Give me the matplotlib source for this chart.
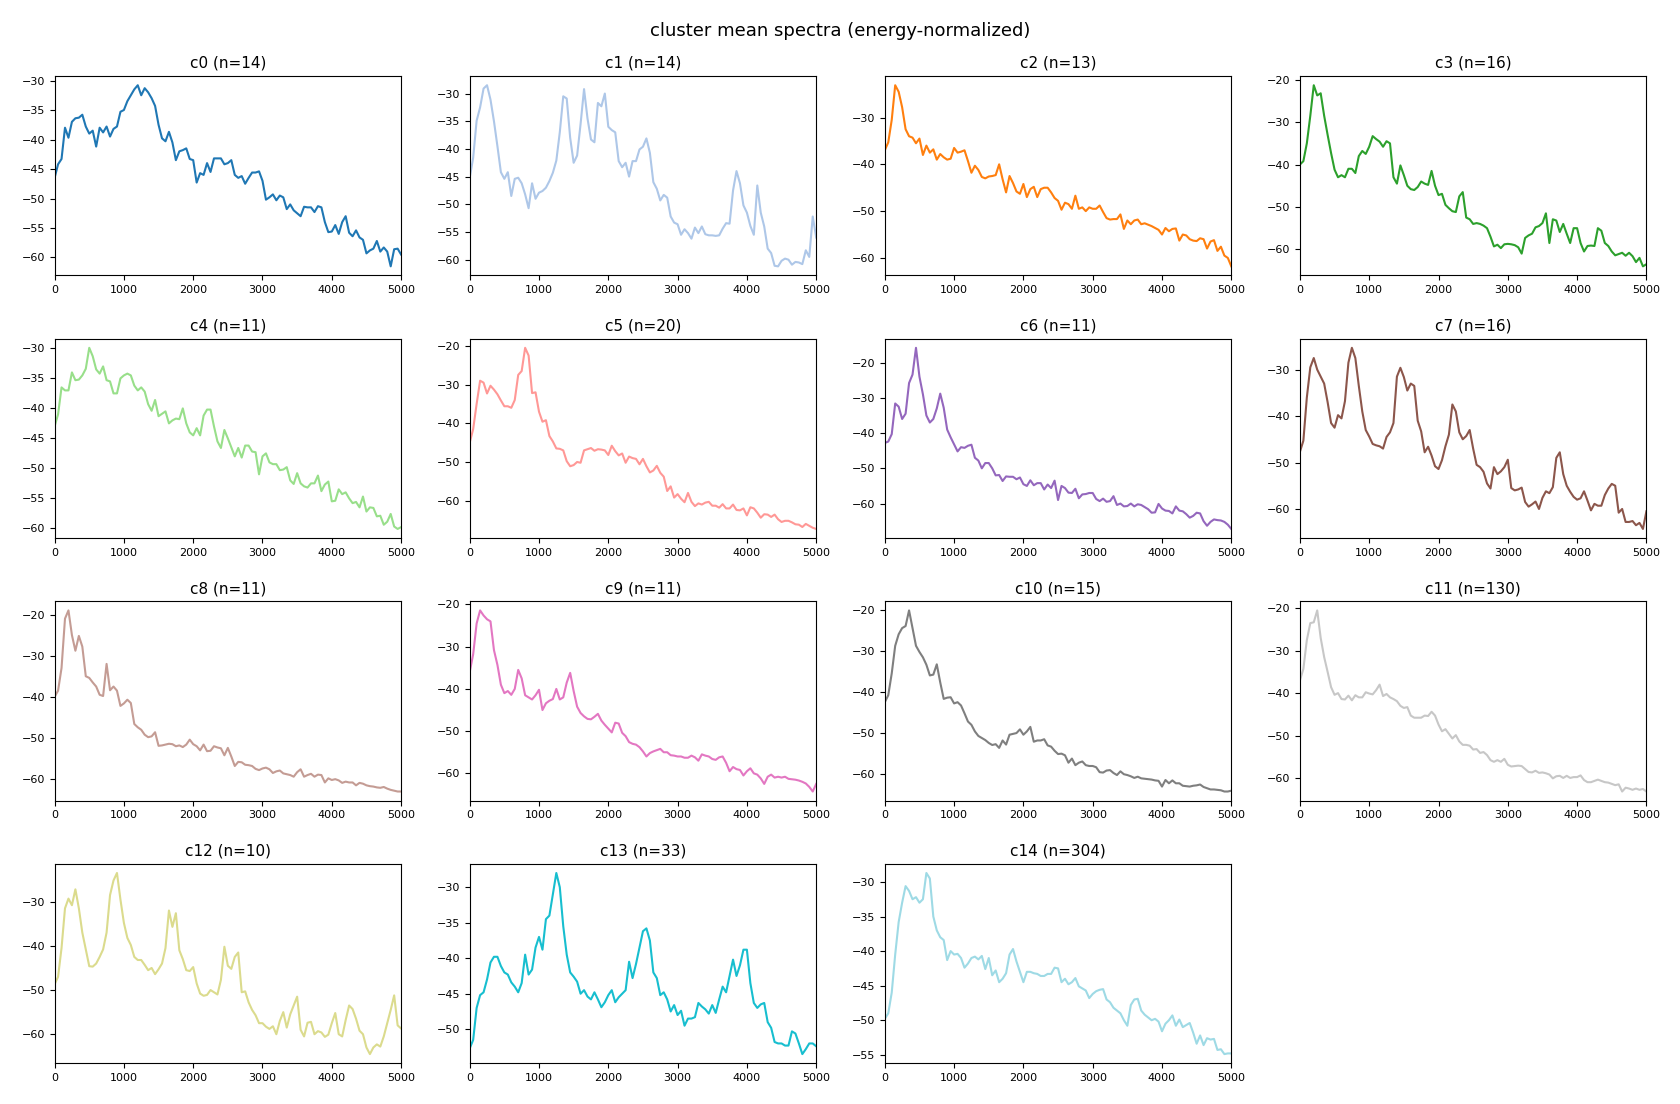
import matplotlib
matplotlib.use('Agg')
import matplotlib.pyplot as plt
import numpy as np

# frequency grid (Hz), 50 Hz steps from 0 to 5000
freqs = np.arange(0, 5001, 50)

labels = ['c0', 'c1', 'c2', 'c3', 'c4', 'c5', 'c6', 'c7',
          'c8', 'c9', 'c10', 'c11', 'c12', 'c13', 'c14']
counts = [14, 14, 13, 16, 11, 20, 11, 16, 11, 11, 15, 130, 10, 33, 304]

# mean spectra in dB, one list per cluster
c0 = [-46.5, -44.2, -43.3, -38.0, -39.7, -37.0, -36.4, -36.3, -35.8, -37.8,
      -39.0, -38.5, -41.2, -38.0, -38.8, -37.8, -39.5, -38.2, -37.8, -35.3,
      -35.0, -33.5, -32.5, -31.5, -30.8, -32.5, -31.3, -32.0, -33.0, -34.3,
      -37.5, -39.8, -40.3, -38.7, -40.5, -43.5, -42.0, -41.8, -41.5, -43.3,
      -43.5, -47.3, -45.7, -46.0, -44.0, -45.5, -43.2, -43.2, -43.2, -44.2,
      -44.0, -43.5, -46.0, -46.5, -46.2, -47.5, -46.5, -45.6, -45.6, -45.4,
      -47.0, -50.2, -49.8, -49.3, -50.3, -49.5, -49.8, -51.8, -51.0, -52.0,
      -52.5, -53.0, -51.4, -51.5, -51.5, -52.3, -51.3, -51.5, -54.0, -55.7,
      -55.6, -54.5, -56.0, -54.0, -53.0, -55.8, -56.4, -55.4, -56.6, -57.0,
      -59.3, -58.8, -58.5, -57.2, -59.0, -58.3, -59.0, -61.5, -58.6, -58.5,
      -59.5]
c1 = [-45.2, -41.6, -34.9, -32.5, -29.1, -28.5, -31.1, -35.0, -39.5, -44.2,
      -45.4, -44.2, -48.5, -45.4, -45.2, -46.2, -48.2, -50.7, -46.2, -49.0,
      -47.9, -47.6, -47.0, -45.8, -44.3, -42.1, -37.0, -30.5, -30.9, -38.0,
      -42.5, -41.2, -35.5, -29.2, -34.5, -38.3, -38.8, -31.7, -32.3, -30.0,
      -36.0, -36.6, -37.0, -42.2, -43.3, -42.5, -45.0, -42.2, -42.2, -40.1,
      -39.6, -38.1, -40.7, -46.0, -47.2, -49.3, -48.3, -48.8, -52.2, -53.3,
      -53.6, -55.5, -54.5, -55.2, -56.2, -54.2, -55.2, -54.0, -55.4, -55.6,
      -55.6, -55.7, -55.6, -54.4, -53.4, -53.5, -47.5, -44.0, -46.2, -50.2,
      -51.5, -53.9, -55.5, -46.6, -51.5, -54.0, -58.0, -58.8, -61.1, -61.2,
      -60.2, -59.8, -60.0, -60.9, -60.4, -60.5, -60.8, -58.3, -59.5, -52.2,
      -56.0]
c2 = [-37.0, -35.3, -30.5, -23.1, -24.5, -27.8, -32.5, -34.0, -34.3, -35.5,
      -34.5, -38.0, -36.0, -37.5, -36.8, -39.0, -37.8, -38.5, -39.0, -38.8,
      -36.5, -37.5, -37.3, -37.0, -39.3, -41.8, -40.3, -41.2, -42.7, -43.0,
      -42.6, -42.5, -42.3, -40.0, -43.2, -46.0, -42.5, -44.0, -45.8, -46.3,
      -44.2, -47.0, -45.3, -44.8, -47.0, -45.3, -45.0, -45.0, -46.0, -47.2,
      -47.8, -49.7, -48.2, -48.5, -49.5, -46.7, -49.5, -49.2, -50.0, -49.2,
      -49.5, -49.5, -48.8, -50.2, -51.5, -51.8, -51.7, -51.7, -50.7, -53.8,
      -52.0, -52.8, -52.0, -51.8, -52.8, -52.6, -52.9, -53.2, -53.6, -54.0,
      -55.0, -53.6, -54.3, -53.8, -53.7, -56.3, -55.0, -55.2, -56.0, -56.3,
      -56.4, -55.8, -56.0, -58.0, -56.5, -56.2, -58.5, -57.6, -59.5, -60.0,
      -61.8]
c3 = [-40.0, -39.2, -35.0, -28.5, -21.3, -23.7, -23.2, -28.5, -33.0, -37.3,
      -41.2, -43.0, -42.5, -43.0, -41.0, -41.0, -42.0, -38.0, -36.8, -37.5,
      -35.8, -33.3, -34.0, -34.6, -35.8, -34.5, -35.0, -43.0, -44.5, -40.2,
      -42.5, -45.0, -45.8, -46.0, -45.3, -44.0, -44.5, -44.8, -41.5, -45.0,
      -47.2, -46.9, -49.5, -50.3, -51.0, -51.2, -47.5, -46.5, -52.5, -52.9,
      -54.0, -53.8, -54.0, -54.4, -55.0, -57.0, -59.3, -58.9, -59.7, -58.8,
      -58.7, -58.8, -59.0, -59.5, -61.0, -57.3, -56.7, -56.3, -54.8, -54.5,
      -53.8, -51.5, -58.5, -52.9, -53.2, -55.9, -54.0, -56.3, -58.5, -55.0,
      -55.0, -58.5, -60.5, -59.2, -59.1, -59.2, -55.0, -55.6, -58.5, -59.2,
      -60.5, -61.4, -61.1, -60.8, -61.5, -60.8, -61.6, -63.0, -62.0, -64.0,
      -63.5]
c4 = [-43.0, -41.0, -36.5, -37.0, -37.0, -34.0, -35.3, -35.2, -34.5, -33.4,
      -29.9, -31.3, -33.5, -34.2, -33.0, -35.3, -35.5, -37.5, -37.5, -35.0,
      -34.5, -34.2, -34.5, -36.2, -37.0, -36.5, -37.2, -39.3, -40.4, -38.6,
      -41.3, -40.9, -40.5, -42.5, -42.0, -41.7, -41.8, -40.0, -42.5, -44.0,
      -44.5, -43.3, -44.5, -41.2, -40.2, -40.2, -43.0, -45.5, -46.6, -43.6,
      -45.0, -46.5, -48.0, -46.6, -48.2, -46.2, -46.2, -47.2, -47.3, -51.0,
      -48.0, -47.5, -49.0, -49.3, -49.3, -50.3, -50.2, -49.8, -52.0, -52.6,
      -50.8, -52.5, -53.0, -53.2, -52.5, -52.5, -51.2, -53.8, -52.7, -52.2,
      -55.5, -55.4, -53.5, -54.3, -54.0, -55.0, -55.8, -55.6, -56.5, -54.7,
      -57.2, -56.5, -56.6, -58.0, -57.9, -59.4, -58.9, -57.6, -59.7, -60.1,
      -59.8]
c5 = [-45.0, -41.5, -35.0, -29.0, -29.5, -32.3, -30.3, -31.3, -32.5, -34.1,
      -35.6, -35.6, -36.0, -34.0, -27.5, -26.5, -20.5, -22.5, -32.2, -32.0,
      -37.0, -39.6, -39.2, -43.3, -44.7, -46.5, -46.6, -47.0, -49.8, -51.1,
      -50.8, -50.0, -50.2, -47.0, -46.7, -46.4, -47.1, -46.7, -46.8, -47.0,
      -48.2, -45.8, -47.2, -48.3, -47.8, -50.2, -48.6, -49.0, -49.2, -50.6,
      -49.2, -51.1, -52.7, -52.2, -51.0, -52.8, -53.8, -57.5, -56.3, -59.2,
      -58.3, -59.5, -60.4, -58.0, -60.3, -61.4, -60.7, -61.0, -60.5, -60.3,
      -61.3, -61.3, -61.8, -60.9, -62.0, -62.0, -61.0, -62.4, -62.5, -62.0,
      -63.8, -61.7, -62.0, -63.1, -64.4, -63.5, -63.6, -64.2, -63.6, -64.8,
      -65.5, -65.2, -65.2, -65.6, -66.1, -66.2, -66.8, -66.0, -66.5, -67.0,
      -67.3]
c6 = [-42.8, -42.4, -40.3, -31.6, -32.5, -36.0, -34.5, -25.8, -23.4, -15.8,
      -24.0, -29.0, -35.0, -37.0, -36.0, -33.0, -28.8, -32.8, -39.0, -41.2,
      -43.2, -45.2, -44.0, -44.2, -43.6, -43.3, -47.0, -47.8, -50.0, -48.5,
      -48.5, -50.0, -52.0, -51.9, -53.6, -52.3, -52.4, -52.4, -53.1, -52.6,
      -54.5, -55.0, -53.4, -54.8, -54.2, -54.2, -56.0, -54.6, -55.6, -53.5,
      -59.0, -55.0, -55.6, -56.9, -57.0, -55.8, -58.5, -57.4, -57.3, -57.0,
      -57.0, -58.7, -59.3, -58.6, -59.5, -59.3, -57.9, -60.4, -60.0, -60.8,
      -60.7, -60.0, -60.8, -60.2, -60.4, -61.0, -61.6, -62.6, -62.5, -60.1,
      -61.4, -62.0, -62.1, -62.8, -60.8, -62.0, -62.2, -63.0, -64.0, -63.5,
      -62.6, -62.8, -65.0, -66.3, -65.2, -64.5, -64.7, -64.8, -65.2, -66.0,
      -67.2]
c7 = [-47.7, -45.3, -36.0, -29.5, -27.5, -30.0, -31.5, -33.0, -37.0, -41.5,
      -42.5, -39.8, -40.5, -36.8, -28.5, -25.3, -27.5, -33.5, -39.0, -43.0,
      -44.4, -46.0, -46.3, -46.5, -47.0, -44.5, -43.5, -41.5, -31.5, -29.6,
      -31.6, -34.5, -33.0, -33.5, -41.0, -43.3, -47.8, -46.6, -48.5, -50.8,
      -51.4, -49.5, -46.5, -44.0, -37.5, -39.0, -43.5, -45.0, -44.3, -43.0,
      -47.0, -50.5, -51.0, -52.0, -54.5, -55.6, -51.0, -52.5, -51.9, -51.0,
      -49.4, -55.5, -56.0, -55.8, -55.4, -58.5, -59.5, -59.0, -58.4, -60.0,
      -57.6, -56.2, -56.6, -55.3, -49.0, -47.8, -52.5, -55.0, -56.3, -57.4,
      -58.0, -57.7, -56.2, -58.2, -60.3, -58.9, -59.3, -59.3, -57.0, -55.6,
      -54.6, -55.0, -60.8, -60.0, -62.8, -62.8, -62.6, -63.5, -63.0, -64.3,
      -60.5]
c8 = [-40.0, -38.5, -33.0, -21.0, -19.0, -25.0, -28.8, -25.2, -27.8, -35.0,
      -35.4, -36.5, -37.5, -39.5, -39.8, -32.0, -38.4, -37.5, -38.5, -42.2,
      -41.6, -40.7, -41.5, -46.6, -47.4, -48.0, -49.2, -49.8, -49.6, -48.6,
      -51.9, -51.8, -51.6, -51.4, -51.5, -52.0, -51.8, -52.2, -51.6, -50.4,
      -51.5, -52.0, -53.0, -51.6, -53.2, -53.1, -52.0, -52.3, -52.5, -54.2,
      -52.4, -54.5, -56.8, -55.8, -55.9, -56.5, -56.6, -56.8, -57.5, -57.8,
      -57.4, -57.2, -57.6, -58.5, -58.1, -57.9, -58.6, -58.8, -59.0, -59.4,
      -58.3, -57.6, -59.4, -59.0, -58.7, -59.4, -58.9, -59.0, -60.8, -59.8,
      -60.2, -60.0, -60.3, -60.9, -60.6, -60.8, -60.8, -61.5, -60.9, -61.1,
      -61.5, -61.7, -61.8, -62.0, -62.1, -61.9, -62.3, -62.6, -62.8, -63.0,
      -63.0]
c9 = [-36.0, -31.8, -24.5, -21.4, -22.6, -23.5, -24.0, -30.8, -34.3, -39.0,
      -41.0, -40.5, -41.4, -40.0, -35.5, -37.5, -41.5, -42.0, -42.5, -41.5,
      -40.2, -45.0, -43.4, -42.8, -42.4, -40.0, -42.5, -42.0, -38.5, -36.2,
      -40.5, -44.2, -45.7, -46.5, -47.1, -47.2, -46.6, -45.9, -47.5, -48.5,
      -49.4, -50.3, -48.0, -48.2, -50.4, -51.2, -52.6, -53.0, -53.2, -53.8,
      -54.8, -56.0, -55.2, -54.8, -54.5, -54.2, -55.0, -55.0, -55.7, -55.8,
      -56.0, -56.0, -56.3, -56.3, -55.8, -56.2, -57.0, -55.5, -55.8, -56.0,
      -56.6, -56.8, -56.2, -56.0, -57.5, -59.5, -58.5, -59.0, -59.2, -60.5,
      -59.5, -58.8, -60.0, -60.3, -61.2, -62.5, -60.8, -60.3, -61.0, -60.8,
      -61.0, -60.8, -61.3, -61.4, -61.5, -61.7, -62.0, -62.4, -63.2, -64.3,
      -62.5]
c10 = [-42.5, -40.8, -35.5, -28.8, -26.0, -24.5, -24.0, -20.2, -24.5, -28.8,
       -30.3, -31.6, -33.4, -36.0, -35.8, -33.3, -37.7, -41.7, -41.4, -41.3,
       -42.8, -42.5, -43.3, -45.2, -47.2, -48.0, -49.6, -50.7, -51.2, -51.7,
       -52.4, -52.9, -52.7, -53.6, -51.8, -52.8, -50.4, -50.2, -50.0, -49.1,
       -50.4, -49.6, -48.5, -52.1, -51.8, -51.8, -51.5, -53.0, -53.3, -54.3,
       -55.1, -55.0, -55.4, -57.2, -56.2, -57.8, -57.2, -56.9, -57.8, -58.0,
       -58.0, -58.3, -59.5, -59.6, -59.1, -59.0, -59.7, -60.2, -59.3, -60.0,
       -60.2, -60.5, -60.9, -60.6, -61.0, -61.1, -61.2, -61.3, -61.5, -61.6,
       -63.0, -61.4, -62.2, -61.5, -62.2, -62.2, -62.8, -62.9, -63.0, -62.8,
       -62.7, -62.5, -63.1, -63.4, -63.7, -63.7, -63.8, -63.9, -64.2, -64.2,
       -64.0]
c11 = [-37.0, -34.3, -27.5, -23.5, -23.3, -20.5, -27.0, -31.5, -35.0, -38.6,
       -40.4, -40.0, -41.4, -41.5, -40.6, -41.7, -40.5, -41.0, -41.0, -39.8,
       -40.1, -40.3, -39.3, -38.0, -40.7, -40.2, -41.0, -41.4, -41.9, -43.0,
       -43.5, -43.3, -45.3, -45.8, -45.8, -45.8, -45.3, -45.4, -44.4, -45.3,
       -47.4, -49.0, -48.5, -49.6, -50.7, -49.9, -51.4, -52.2, -52.2, -52.4,
       -53.3, -53.2, -54.1, -53.9, -54.6, -55.8, -56.2, -55.8, -56.2, -55.5,
       -56.9, -57.3, -57.2, -57.1, -57.2, -57.9, -58.6, -58.7, -58.3, -58.8,
       -58.7, -58.9, -59.2, -60.1, -59.6, -59.5, -60.0, -59.5, -60.0, -59.8,
       -59.8, -59.4, -60.5, -61.0, -61.0, -60.7, -60.4, -60.7, -61.0, -61.1,
       -61.4, -61.7, -61.5, -63.2, -62.3, -62.5, -62.8, -62.5, -62.8, -62.6,
       -63.2]
c12 = [-48.7, -47.0, -40.5, -31.5, -29.3, -30.8, -27.2, -31.5, -37.0, -40.8,
       -44.6, -44.7, -44.0, -42.5, -40.8, -37.0, -28.5, -25.2, -23.5, -29.5,
       -34.8, -38.2, -39.8, -42.5, -43.2, -43.2, -44.3, -45.5, -45.0, -46.4,
       -45.3, -44.0, -40.5, -32.0, -35.7, -32.6, -41.0, -43.0, -45.5, -45.7,
       -44.8, -48.5, -50.8, -51.3, -51.1, -50.0, -50.5, -51.0, -47.7, -40.2,
       -44.5, -45.2, -42.5, -41.5, -50.5, -50.3, -52.8, -54.5, -55.7, -57.5,
       -57.5, -58.3, -58.8, -58.2, -60.0, -57.0, -55.0, -58.5, -55.5, -53.5,
       -51.5, -59.0, -60.5, -57.4, -57.2, -60.0, -59.3, -59.6, -60.6, -60.1,
       -57.5, -55.2, -60.0, -60.5, -56.8, -53.5, -54.3, -56.5, -59.2, -60.0,
       -63.0, -64.5, -63.0, -62.3, -62.8, -60.5, -57.5, -54.5, -51.2, -58.0,
       -58.7]
c13 = [-52.7, -51.5, -47.0, -45.2, -44.8, -43.0, -40.6, -39.8, -39.8, -41.1,
       -42.0, -42.3, -43.4, -44.0, -44.8, -43.5, -39.5, -42.3, -41.6, -38.5,
       -37.0, -38.8, -34.5, -34.0, -31.0, -28.0, -30.0, -35.5, -39.5, -42.0,
       -42.6, -43.3, -45.0, -44.5, -45.4, -45.8, -44.8, -45.8, -46.9, -46.2,
       -45.2, -44.5, -46.2, -45.5, -45.0, -44.5, -40.5, -42.8, -40.8, -38.5,
       -36.2, -35.8, -37.5, -42.0, -42.8, -45.2, -44.8, -45.8, -47.5, -46.6,
       -48.0, -47.4, -49.5, -48.5, -48.5, -48.3, -46.3, -46.8, -47.2, -47.8,
       -46.6, -47.7, -45.8, -44.0, -44.8, -42.5, -40.2, -42.5, -41.0, -38.8,
       -38.8, -43.5, -46.3, -47.0, -46.5, -46.3, -49.0, -49.8, -51.8, -52.0,
       -52.0, -52.3, -52.3, -50.3, -50.6, -52.0, -53.5, -52.8, -52.0, -52.0,
       -52.4]
c14 = [-49.8, -49.0, -46.0, -40.5, -35.8, -33.0, -30.6, -31.3, -32.5, -32.2,
       -33.0, -32.5, -28.7, -29.5, -35.0, -37.0, -38.0, -38.4, -41.3, -40.0,
       -40.5, -40.4, -41.0, -42.4, -41.8, -41.0, -40.8, -41.2, -40.7, -42.6,
       -41.0, -43.5, -42.8, -44.5, -44.0, -43.2, -40.5, -39.7, -41.5, -43.0,
       -44.5, -43.0, -43.0, -43.2, -43.3, -43.6, -43.6, -43.3, -43.3, -42.4,
       -42.5, -44.5, -44.0, -44.8, -44.5, -43.9, -45.1, -45.4, -45.7, -46.8,
       -46.2, -45.8, -45.6, -45.5, -47.0, -47.4, -48.2, -48.6, -49.0, -50.0,
       -50.8, -47.8, -47.0, -46.9, -48.6, -49.2, -49.6, -50.0, -49.8, -50.2,
       -51.6, -50.5, -50.0, -49.3, -50.8, -49.9, -51.0, -50.7, -50.4, -51.8,
       -53.4, -52.2, -53.6, -52.6, -52.8, -52.7, -54.3, -54.2, -54.9, -54.8,
       -54.8]

spectra = [c0, c1, c2, c3, c4, c5, c6, c7, c8, c9, c10, c11, c12, c13, c14]
colors = plt.cm.tab20(np.linspace(0, 1, len(spectra)))

fig, axes = plt.subplots(4, 4, figsize=(16.8, 11.04), dpi=100)
fig.subplots_adjust(left=0.0325, right=0.980, top=0.931, bottom=0.037,
                    wspace=0.198, hspace=0.318)

for i, ax in enumerate(axes.flat):
    if i >= len(spectra):
        ax.axis('off')
        continue
    ax.plot(freqs, spectra[i], color=colors[i], lw=1.5)
    ax.set_xlim(0, 5000)
    ax.set_title(f'{labels[i]} (n={counts[i]})', fontsize=11)
    ax.tick_params(labelsize=8)

fig.suptitle('cluster mean spectra (energy-normalized)', fontsize=13)
fig.savefig('out.png', dpi=100)
